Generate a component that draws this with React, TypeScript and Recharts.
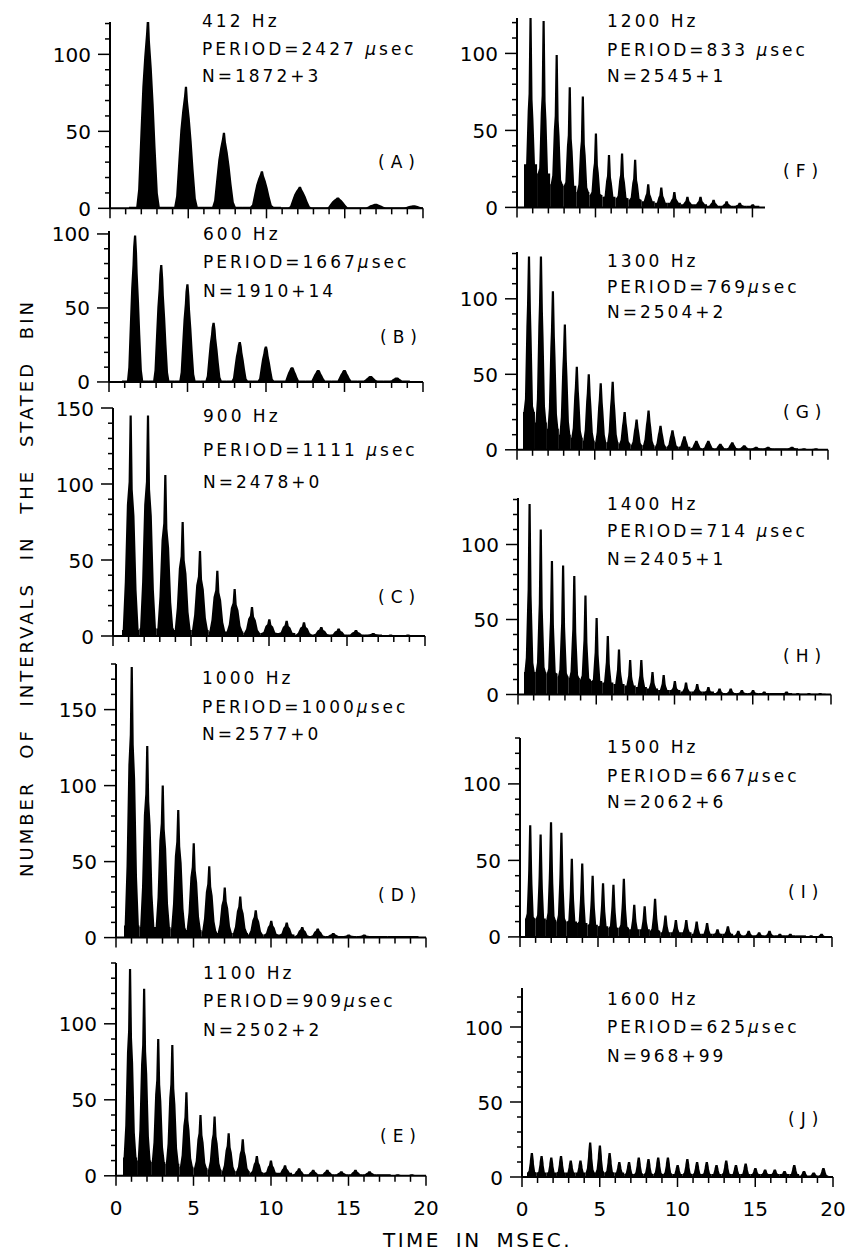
import React from "react";
import { BarChart, Bar, XAxis, YAxis } from "recharts";

const FONT = '"DejaVu Sans", "Liberation Sans", sans-serif';

// Peak counts at each multiple of the stimulus period, and the count level
// in the trough that follows each peak.
const peaksA = [123, 79, 49, 24, 14, 7, 3, 2];
const floorsA = [1, 1, 1, 1, 0.5, 0.5, 0.5, 0.5];

const peaksB = [99, 79, 66, 40, 27, 24, 10, 8, 8, 4, 3];
const floorsB = [1, 1, 1, 1, 1, 1, 1, 1, 1, 1, 1];

const peaksC = [145, 145, 106, 75, 56, 43, 31, 19, 11, 10, 9, 6, 5, 4, 2, 1, 1];
const floorsC = [4, 5, 5, 4, 4, 3, 3, 2, 2, 2, 1, 1, 1, 1, 1, 0.5, 0.5];

const peaksD = [178, 126, 100, 84, 62, 47, 33, 27, 18, 11, 10, 7, 6, 3, 2, 2, 1, 1, 1];
const floorsD = [8, 7, 7, 6, 5, 4, 3, 3, 2, 2, 2, 1, 1, 1, 1, 1, 1, 1, 1];

const peaksE = [136, 123, 90, 86, 55, 40, 39, 28, 24, 13, 10, 7, 5, 4, 4, 3, 4, 3, 1, 1, 1];
const floorsE = [12, 10, 9, 8, 6, 5, 4, 3, 3, 2, 2, 2, 1, 1, 1, 1, 1, 1, 1, 0.5, 0.5];

const peaksF = [123, 121, 99, 78, 72, 48, 34, 35, 31, 15, 13, 10, 7, 7, 5, 4, 3, 2];
const floorsF = [28, 22, 15, 14, 10, 8, 7, 6, 5, 4, 3, 3, 2, 2, 1, 1, 1, 1];

const peaksG = [128, 128, 105, 83, 55, 50, 44, 45, 25, 20, 26, 16, 13, 9, 6, 6, 4, 5, 3, 2, 2, 1, 2, 1, 1];
const floorsG = [25, 18, 14, 10, 8, 6, 5, 5, 4, 3, 3, 2, 2, 2, 1, 1, 1, 1, 1, 1, 1, 1, 1, 0.5, 0.5];

const peaksH = [127, 110, 89, 86, 79, 66, 51, 39, 30, 23, 23, 15, 13, 9, 8, 7, 5, 4, 4, 3, 3, 2, 1, 2, 1, 1, 1];
const floorsH = [15, 15, 14, 12, 11, 10, 9, 8, 7, 6, 5, 4, 3, 3, 2, 2, 2, 1, 1, 1, 1, 1, 1, 1, 0.5, 0.5, 0.5];

const peaksI = [73, 67, 75, 68, 51, 48, 40, 35, 34, 38, 21, 20, 25, 14, 11, 11, 10, 9, 5, 7, 4, 4, 3, 4, 2, 2, 1, 1, 2];
const floorsI = [12, 12, 11, 10, 10, 9, 8, 7, 6, 6, 5, 5, 4, 3, 3, 3, 2, 2, 2, 2, 1, 1, 1, 1, 1, 1, 1, 0.5, 0.5];

const peaksJ = [16, 14, 13, 14, 11, 11, 23, 21, 16, 10, 10, 13, 12, 13, 13, 8, 12, 10, 10, 8, 11, 8, 9, 6, 5, 5, 4, 8, 4, 3, 6];
const floorsJ = [3, 3, 3, 3, 3, 3, 3, 3, 3, 3, 2, 2, 2, 2, 2, 2, 2, 2, 2, 2, 2, 2, 2, 2, 2, 2, 2, 2, 1, 1, 1];

// Peak outline, as [dx in periods, height as a fraction of the peak].
// Low-frequency peaks are broad humps with a narrow tip.
const BROAD: number[][] = [
  [-0.31, 0], [-0.26, 0.1], [-0.2, 0.4], [-0.15, 0.64], [-0.1, 0.8], [-0.04, 0.92], [-0.012, 1],
  [0.012, 1], [0.04, 0.88], [0.1, 0.74], [0.15, 0.55], [0.2, 0.32], [0.26, 0.08], [0.31, 0],
];

// High-frequency peaks: a wide body up to `s` of the peak, with a one-bin spike on top.
function spikeProfile(s: number): number[][] {
  return [
    [-0.46, 0], [-0.34, 0.35 * s], [-0.22, 0.85 * s], [-0.12, s], [-0.012, 1],
    [0.012, 1], [0.12, 0.95 * s], [0.22, 0.78 * s], [0.34, 0.3 * s], [0.46, 0],
  ];
}

type Panel = {
  tag: string;
  hz: string;
  periodUs: number;
  periodText: string;
  nText: string;
  peaks: number[];
  floors: number[];
  x0: number;
  xEnd: number;
  xMax: number;
  yBase: number;
  yMax: number;
  ppu: number;
  shoulder: number | null;
  textX: number;
  textY: number[];
  tagX: number;
  tagY: number;
  xLabels: boolean;
};

const panels: Panel[] = [
  { tag: "A", hz: "412 Hz", periodUs: 2427, periodText: "2427 ", nText: "N=1872+3", peaks: peaksA, floors: floorsA,
    x0: 110, xEnd: 423, xMax: 20, yBase: 208, yMax: 121, ppu: 1.54, shoulder: null,
    textX: 202, textY: [27, 55, 82], tagX: 378, tagY: 168, xLabels: false },
  { tag: "B", hz: "600 Hz", periodUs: 1667, periodText: "1667", nText: "N=1910+14", peaks: peaksB, floors: floorsB,
    x0: 109, xEnd: 423, xMax: 20, yBase: 382, yMax: 102, ppu: 1.48, shoulder: null,
    textX: 203, textY: [240, 268, 297], tagX: 380, tagY: 343, xLabels: false },
  { tag: "C", hz: "900 Hz", periodUs: 1111, periodText: "1111 ", nText: "N=2478+0", peaks: peaksC, floors: floorsC,
    x0: 113, xEnd: 425, xMax: 20, yBase: 636, yMax: 150, ppu: 1.52, shoulder: 0.7,
    textX: 203, textY: [422, 456, 488], tagX: 378, tagY: 603, xLabels: false },
  { tag: "D", hz: "1000 Hz", periodUs: 1000, periodText: "1000", nText: "N=2577+0", peaks: peaksD, floors: floorsD,
    x0: 116, xEnd: 426, xMax: 20, yBase: 938, yMax: 180, ppu: 1.52, shoulder: 0.75,
    textX: 202, textY: [684, 713, 740], tagX: 378, tagY: 901, xLabels: false },
  { tag: "E", hz: "1100 Hz", periodUs: 909, periodText: "909", nText: "N=2502+2", peaks: peaksE, floors: floorsE,
    x0: 116, xEnd: 426, xMax: 20, yBase: 1176, yMax: 140, ppu: 1.52, shoulder: 0.7,
    textX: 203, textY: [979, 1007, 1036], tagX: 380, tagY: 1142, xLabels: true },
  { tag: "F", hz: "1200 Hz", periodUs: 833, periodText: "833 ", nText: "N=2545+1", peaks: peaksF, floors: floorsF,
    x0: 517, xEnd: 765, xMax: 15.8, yBase: 207, yMax: 123, ppu: 1.54, shoulder: 0.6,
    textX: 607, textY: [27, 56, 82], tagX: 783, tagY: 177, xLabels: false },
  { tag: "G", hz: "1300 Hz", periodUs: 769, periodText: "769", nText: "N=2504+2", peaks: peaksG, floors: floorsG,
    x0: 517, xEnd: 828, xMax: 20, yBase: 450, yMax: 131, ppu: 1.51, shoulder: 0.75,
    textX: 607, textY: [267, 293, 318], tagX: 783, tagY: 418, xLabels: false },
  { tag: "H", hz: "1400 Hz", periodUs: 714, periodText: "714 ", nText: "N=2405+1", peaks: peaksH, floors: floorsH,
    x0: 518, xEnd: 831, xMax: 20, yBase: 694, yMax: 131, ppu: 1.5, shoulder: 0.55,
    textX: 607, textY: [510, 537, 565], tagX: 783, tagY: 662, xLabels: false },
  { tag: "I", hz: "1500 Hz", periodUs: 667, periodText: "667", nText: "N=2062+6", peaks: peaksI, floors: floorsI,
    x0: 520, xEnd: 832, xMax: 20, yBase: 937, yMax: 130, ppu: 1.53, shoulder: 0.6,
    textX: 607, textY: [753, 782, 808], tagX: 788, tagY: 898, xLabels: false },
  { tag: "J", hz: "1600 Hz", periodUs: 625, periodText: "625", nText: "N=968+99", peaks: peaksJ, floors: floorsJ,
    x0: 522, xEnd: 833, xMax: 20, yBase: 1177, yMax: 126, ppu: 1.5, shoulder: 0.7,
    textX: 607, textY: [1005, 1033, 1062], tagX: 788, tagY: 1125, xLabels: true },
];

const AXIS_W = 80;
const AXIS_H = 45;
const PAD_T = 16;
const PAD_R = 18;

function Spike(props: any) {
  const { x, y, width, height, payload, periodPx, shoulder } = props;
  if (!(height > 0) || !payload) return null;
  const cx = x + width / 2;
  const base = y + height;
  const unit = height / payload.peak;
  const f = payload.floor * unit;
  const half = periodPx / 2;
  const prof = shoulder == null ? BROAD : spikeProfile(shoulder);
  const pts: string[] = [];
  pts.push(`${cx - half},${base}`);
  pts.push(`${cx - half},${base - f}`);
  for (const [dx, fr] of prof) {
    let px = dx * periodPx;
    if (fr === 1) px = dx < 0 ? -1.1 : 1.1;
    else if (Math.abs(px) < 2) px = dx < 0 ? -2 : 2;
    pts.push(`${cx + px},${base - Math.max(f, fr * height)}`);
  }
  pts.push(`${cx + half},${base - f}`);
  pts.push(`${cx + half},${base}`);
  return <polygon points={pts.join(" ")} fill="#000" />;
}

function YTick(props: any) {
  const { x, y, payload } = props;
  const v = payload.value;
  const major = v % 50 === 0;
  return (
    <g>
      <line x1={x - (major ? 12 : 5)} x2={x} y1={y} y2={y} stroke="#000" strokeWidth={1.5} />
      {major && (
        <text x={x - 19} y={y + 7.5} textAnchor="end" fontSize={20} fontFamily={FONT} fill="#000">
          {v}
        </text>
      )}
    </g>
  );
}

function XTick(props: any) {
  const { x, y, payload, showLabels } = props;
  const v = payload.value;
  const major = v % 5 === 0;
  return (
    <g>
      <line x1={x} x2={x} y1={y} y2={y + (major ? 10 : 6)} stroke="#000" strokeWidth={1.5} />
      {showLabels && major && (
        <text x={x} y={y + 39} textAnchor="middle" fontSize={20} fontFamily={FONT} fill="#000">
          {v}
        </text>
      )}
    </g>
  );
}

function HistogramPanel({ p }: { p: Panel }) {
  const period = p.periodUs / 1000;
  const data = p.peaks.map((peak, i) => ({ t: (i + 1) * period, peak, floor: p.floors[i] }));
  const plotW = p.xEnd - p.x0;
  const plotH = p.yMax * p.ppu;
  const periodPx = (plotW / p.xMax) * period;
  const xTicks = Array.from({ length: Math.floor(p.xMax) + 1 }, (_, i) => i);
  const yTicks = Array.from({ length: Math.floor(p.yMax / 10) + 1 }, (_, i) => i * 10);
  return (
    <div style={{ position: "absolute", left: p.x0 - AXIS_W, top: p.yBase - plotH - PAD_T }}>
      <BarChart
        width={AXIS_W + plotW + PAD_R}
        height={PAD_T + plotH + AXIS_H}
        data={data}
        margin={{ top: PAD_T, right: PAD_R, bottom: 0, left: 0 }}
      >
        <XAxis
          type="number"
          dataKey="t"
          domain={[0, p.xMax]}
          allowDataOverflow
          ticks={xTicks}
          interval={0}
          height={AXIS_H}
          tickSize={0}
          tickMargin={0}
          tickLine={false}
          axisLine={{ stroke: "#000", strokeWidth: 2 }}
          tick={(tp: any) => <XTick {...tp} showLabels={p.xLabels} />}
        />
        <YAxis
          type="number"
          domain={[0, p.yMax]}
          allowDataOverflow
          ticks={yTicks}
          interval={0}
          width={AXIS_W}
          tickSize={0}
          tickMargin={0}
          tickLine={false}
          axisLine={{ stroke: "#000", strokeWidth: 2 }}
          tick={(tp: any) => <YTick {...tp} />}
        />
        <Bar
          dataKey="peak"
          barSize={4}
          fill="#000"
          isAnimationActive={false}
          shape={(bp: any) => <Spike {...bp} periodPx={periodPx} shoulder={p.shoulder} />}
        />
      </BarChart>
    </div>
  );
}

const textStyle = { fontFamily: FONT, fontSize: 17, letterSpacing: 3, fill: "#000" };

export default function App() {
  return (
    <div style={{ position: "absolute", left: 0, top: 0, width: 854, height: 1253, background: "#fff", overflow: "hidden" }}>
      {panels.map((p) => (
        <HistogramPanel key={p.tag} p={p} />
      ))}
      <svg width={854} height={1253} style={{ position: "absolute", left: 0, top: 0, pointerEvents: "none" }}>
        {panels.map((p) => (
          <g key={p.tag} style={textStyle as any}>
            <text x={p.textX} y={p.textY[0]}>{p.hz}</text>
            <text x={p.textX} y={p.textY[1]}>
              {"PERIOD=" + p.periodText}
              <tspan fontStyle="italic">µ</tspan>
              {"sec"}
            </text>
            <text x={p.textX} y={p.textY[2]}>{p.nText}</text>
            <text x={p.tagX} y={p.tagY} letterSpacing={6}>{`(${p.tag})`}</text>
          </g>
        ))}
        <text
          x={33}
          y={588}
          transform="rotate(-90 33 588)"
          textAnchor="middle"
          fontFamily={FONT}
          fontSize={18}
          letterSpacing={3}
          wordSpacing={13}
        >
          NUMBER OF INTERVALS IN THE STATED BIN
        </text>
        <text x={383} y={1247} fontFamily={FONT} fontSize={20} letterSpacing={2.5} wordSpacing={6}>
          TIME IN MSEC.
        </text>
      </svg>
    </div>
  );
}
